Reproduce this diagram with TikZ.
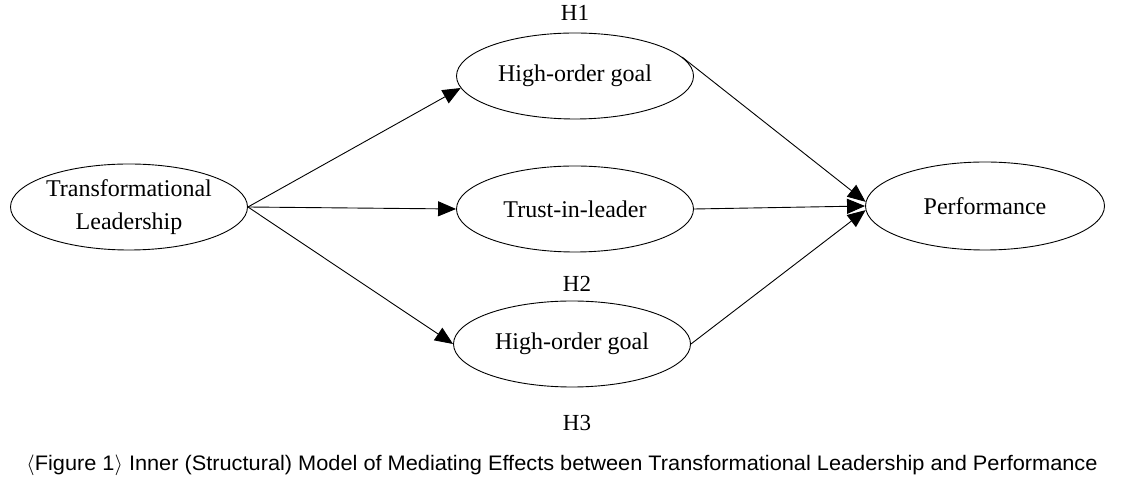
\documentclass[tikz,border=0pt]{standalone}
\usepackage{fontspec}
\setmainfont{Liberation Serif}
\setsansfont{Liberation Sans}
\usepackage{graphicx}
\usetikzlibrary{arrows.meta,shapes.geometric}
\begin{document}
\begin{tikzpicture}[x=1pt,y=1pt,
  oval/.style={draw,ellipse,line width=0.9pt,minimum width=237pt,minimum height=86pt,inner sep=0pt,
    font=\fontsize{24}{33}\selectfont,align=center},
  lbl/.style={font=\fontsize{23}{28}\selectfont,inner sep=0pt},
  link/.style={line width=0.9pt,-{Triangle[length=18pt,width=15pt]}}]
\useasboundingbox (0,0) rectangle (1123,484);
\node[oval] (tl) at (129,277) {Transformational\\Leadership};
\node[oval] (hog1) at (575,408) {High-order goal};
\node[oval] (trust) at (575,275) {Trust-in-leader};
\node[oval] (hog2) at (572,140) {High-order goal};
\node[oval,minimum width=239pt,minimum height=88pt] (perf) at (985,278) {Performance};
\node[lbl] (h1) at (575,471) {H1};
\node[lbl] (h2) at (577,200) {H2};
\node[lbl] (h3) at (577,61) {H3};
\node[inner sep=0pt] (cap) at (562,19) {\resizebox{1071pt}{\height}{\sffamily\fontsize{21}{24}\selectfont $\langle$Figure 1$\rangle$ Inner (Structural) Model of Mediating Effects between Transformational Leadership and Performance}};
\draw[link] (tl.east) -- (hog1.186);
\draw[link] (tl.east) -- (trust.west);
\draw[link] (tl.east) -- (hog2.west);
\draw[link] (hog1.10) -- (perf.178);
\draw[link] (trust.east) -- (perf.west);
\draw[link] (hog2.east) -- (perf.182);
\end{tikzpicture}
\end{document}
